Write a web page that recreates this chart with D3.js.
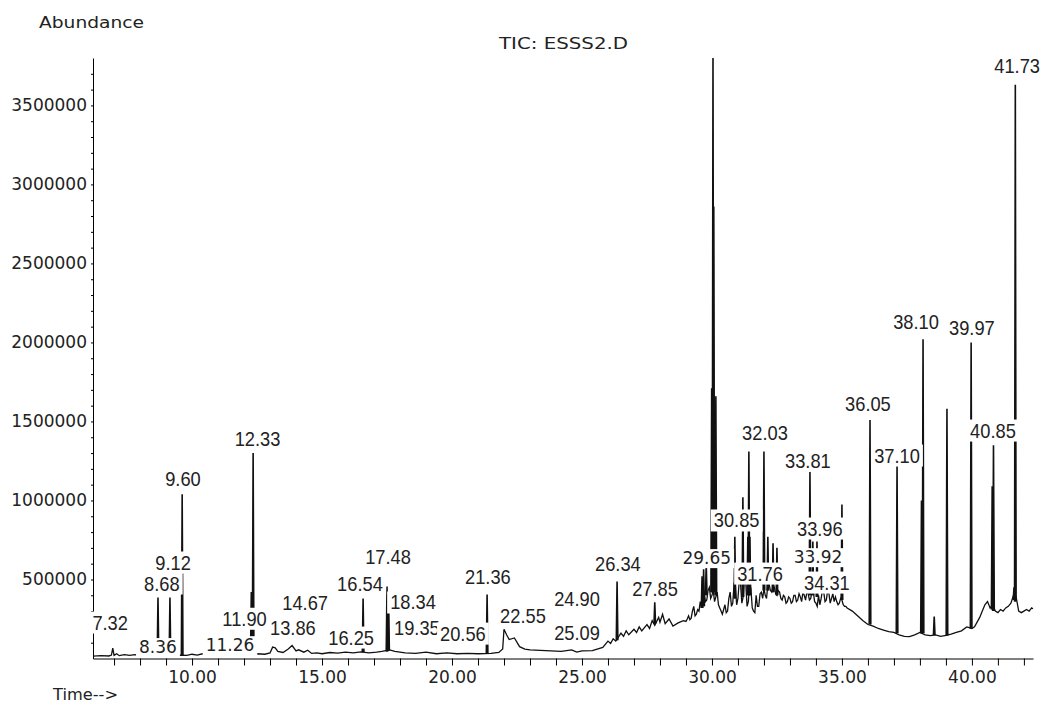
<!DOCTYPE html>
<html>
<head>
<meta charset="utf-8">
<script src="https://cdn.jsdelivr.net/npm/d3@7"></script>
<style>
  body { margin: 0; background: #fff; }
  svg { display: block; }
  .axis text { font-family: 'DejaVu Sans', sans-serif; font-size: 17px; fill: #222; }
  .axis path, .axis line { stroke: #000; }
  .title { font-family: 'DejaVu Sans', sans-serif; font-size: 16px; fill: #222; }
  .peak-label { font-family: 'Liberation Sans', Arial, sans-serif; font-size: 21px; fill: #222; }
  .peak-label.alt { font-family: 'DejaVu Sans', sans-serif; font-size: 17px; }
</style>
</head>
<body>
<svg width="1046" height="707"></svg>
<script>
// all abundances are in thousands of counts

// baseline of the total ion chromatogram (time in minutes)
var traceTime = [
  6.20, 6.50, 6.80, 6.90, 6.95, 7.00, 7.10, 7.20, 7.40, 7.60,
  7.80, 8.00, 8.20, 8.40, 8.60, 8.80, 9.00, 9.20, 9.40, 9.80,
  10.00, 10.20, 10.40, 10.60, 10.80, 11.00, 11.20, 11.40, 11.60, 11.80,
  12.00, 12.20, 12.50, 12.80, 13.00, 13.10, 13.20, 13.30, 13.50, 13.70,
  13.85, 14.00, 14.10, 14.30, 14.45, 14.60, 14.80, 15.00, 15.30, 15.60,
  15.90, 16.20, 16.50, 16.80, 17.10, 17.30, 17.60, 17.80, 18.00, 18.20,
  18.60, 19.00, 19.40, 19.80, 20.20, 20.60, 21.00, 21.50, 21.80, 21.95,
  22.00, 22.10, 22.20, 22.40, 22.60, 22.80, 23.00, 23.40, 23.80, 24.20,
  24.60, 24.80, 25.00, 25.40, 25.80, 26.00, 26.10, 26.20, 26.30, 26.50,
  26.60, 26.70, 26.80, 27.00, 27.10, 27.20, 27.30, 27.50, 27.60, 27.70,
  27.80, 27.95, 28.00, 28.10, 28.20, 28.35, 28.50, 28.70, 28.90,
  29.00, 29.05, 29.10, 29.15, 29.20, 29.25, 29.30, 29.35, 29.40, 29.45,
  29.50, 29.55, 29.60, 29.65, 29.70, 29.75, 29.80, 29.85, 29.90, 29.95,
  30.00, 30.05, 30.10, 30.15, 30.20, 30.25, 30.30, 30.35, 30.40, 30.45,
  30.50, 30.55, 30.60, 30.65, 30.70, 30.75, 30.80, 30.85, 30.90, 30.95,
  31.00, 31.05, 31.10, 31.15, 31.20, 31.25, 31.30, 31.35, 31.40, 31.45,
  31.50, 31.55, 31.60, 31.65, 31.70, 31.75, 31.80, 31.85, 31.90, 31.95,
  32.00, 32.05, 32.10, 32.15, 32.20, 32.25, 32.30, 32.35, 32.40, 32.45,
  32.50, 32.55, 32.60, 32.65, 32.70, 32.75, 32.80, 32.85, 32.90, 32.95,
  33.00, 33.05, 33.10, 33.15, 33.20, 33.25, 33.30, 33.35, 33.40, 33.45,
  33.50, 33.55, 33.60, 33.65, 33.70, 33.75, 33.80, 33.85, 33.90, 33.95,
  34.00, 34.05, 34.10, 34.15, 34.20, 34.25, 34.30, 34.35, 34.40, 34.45,
  34.50, 34.55, 34.60, 34.65, 34.70, 34.75, 34.80, 34.85, 34.90, 34.95,
  35.00, 35.05, 35.10, 35.15, 35.20, 35.40, 35.60, 35.80, 36.00, 36.20,
  36.40, 36.60, 36.80, 37.00, 37.20, 37.40, 37.60, 37.80, 38.00, 38.20,
  38.40, 38.60, 38.80, 39.00, 39.20, 39.40, 39.60, 39.80, 40.00, 40.10,
  40.20, 40.30, 40.40, 40.50, 40.60, 40.70, 40.80, 40.90, 41.00, 41.10,
  41.20, 41.30, 41.40, 41.50, 41.60, 41.70, 41.80, 41.90, 42.00, 42.10,
  42.20, 42.30, 42.35
]
var traceAbund = [
  15, 18, 16, 22, 65, 20, 30, 18, 25, 20,
  24, 18, 22, 19, 24, 20, 26, 18, 22, 20,
  27, 22, 30, 26, 33, 28, 32, 26, 34, 28,
  30, 26, 30, 27, 35, 72, 68, 45, 38, 60,
  82, 48, 55, 40, 52, 32, 36, 30, 38, 34,
  40, 36, 42, 35, 40, 45, 55, 45, 40, 35,
  32, 40, 30, 35, 30, 33, 30, 32, 38, 60,
  185, 150, 120, 130, 75, 60, 55, 52, 48, 45,
  55, 40, 48, 50, 70, 110, 95, 125, 110, 160,
  140, 175, 150, 185, 165, 200, 175, 215, 190, 240,
  210, 260, 230, 280, 220, 250, 205, 225, 240,
  235, 250, 270, 245, 255, 300, 330, 270, 280, 310,
  300, 360, 320, 410, 420, 360, 370, 430, 450, 380,
  400, 430, 360, 390, 420, 340, 320, 300, 280, 310,
  340, 290, 300, 380, 420, 330, 350, 470, 460, 340,
  380, 490, 470, 350, 390, 500, 480, 330, 360, 480,
  440, 320, 300, 290, 400, 330, 330, 410, 420, 380,
  440, 400, 380, 470, 470, 430, 420, 460, 450, 410,
  400, 430, 420, 380, 370, 400, 390, 350, 360, 390,
  380, 350, 360, 400, 400, 360, 370, 410, 390, 360,
  420, 400, 370, 420, 410, 370, 380, 430, 420, 360,
  350, 330, 400, 340, 380, 430, 420, 360, 370, 430,
  410, 350, 380, 410, 360, 390, 360, 340, 350, 380,
  370, 340, 330, 330, 320, 300, 270, 240, 215, 205,
  190, 180, 170, 165, 150, 140, 138, 150, 165, 150,
  145, 150, 140, 146, 155, 165, 175, 200, 190, 200,
  230, 260, 300, 340, 360, 320, 340, 300, 290, 310,
  300, 320, 330, 350, 400, 390, 300, 290, 300, 310,
  300, 320, 315
]

// individual peaks: retention time, apex and foot abundance
var peakTime = [8.69, 9.15, 9.62, 12.28, 12.35, 16.58, 17.50, 17.56, 21.35, 26.35,
  27.80, 29.62, 29.68, 29.78, 29.99, 30.04, 30.07, 30.15, 30.88, 31.19,
  31.38, 31.42, 31.46, 32.00, 32.15, 32.35, 32.50, 33.77, 33.88, 34.04,
  35.00, 36.08, 37.12, 38.06, 38.12, 38.55, 39.04, 39.97, 40.78, 40.83,
  41.62, 41.67]
var peakApex = [386, 386, 1040, 420, 1300, 380, 455, 410, 405, 487,
  355, 520, 565, 600, 1710, 3800, 2860, 1660, 770, 1020,
  770, 1310, 770, 1310, 770, 730, 700, 1180, 740, 740,
  975, 1510, 1230, 1000, 2020, 266, 1580, 2000, 1090, 1350,
  450, 3630]
var peakFoot = [20, 20, 22, 28, 28, 40, 45, 50, 32, 115,
  220, 320, 330, 400, 420, 420, 420, 400, 380, 390,
  400, 400, 400, 430, 430, 420, 400, 400, 400, 390,
  370, 215, 160, 160, 160, 148, 146, 190, 310, 300,
  370, 360]

// retention-time labels printed by the integrator
var labelText = ['7.32', '8.36', '8.68', '9.12', '9.60', '11.26', '11.90', '12.33', '13.86', '14.67',
  '16.25', '16.54', '17.48', '18.34', '19.35', '20.56', '21.36', '22.55', '24.90', '25.09',
  '26.34', '27.85', '29.65', '30.85', '31.76', '32.03', '33.81', '33.96', '33.92', '34.31',
  '36.05', '37.10', '38.10', '39.97', '40.85', '41.73']
// where each label sits (minutes, thousands)
var labelAt = [[6.85, 231], [8.69, 73], [8.84, 478], [9.27, 611], [9.65, 1142], [11.46, 85], [12.02, 255], [12.52, 1395], [13.88, 199], [14.35, 352],
  [16.12, 136], [16.46, 478], [17.54, 649], [18.5, 358], [18.65, 199], [20.42, 161], [21.38, 522], [22.73, 275], [24.81, 383], [24.81, 168],
  [26.38, 604], [27.81, 446], [29.8, 636], [30.95, 877], [31.85, 541], [32.04, 1433], [33.69, 1256], [34.15, 826], [34.08, 642], [34.42, 484],
  [36.0, 1617], [37.12, 1288], [37.85, 2130], [40.0, 2098], [40.81, 1446], [41.74, 3750]]
var altFontLabels = ['8.36', '11.26', '29.65', '33.92']

var xTickValues = d3.range(7, 43)
var yTickValues = d3.range(100, 3800, 100)

var svg = d3.select('svg')

var x = d3.scaleLinear().domain([6.19, 42.35]).range([93, 1033])
var y = d3.scaleLinear().domain([0, 3800]).range([658.5, 58])

// axes
svg.append('g')
    .attr('class', 'axis')
    .attr('transform', 'translate(0,' + y(0) + ')')
    .call(d3.axisBottom(x)
      .tickValues(xTickValues)
      .tickSize(7)
      .tickSizeOuter(0)
      .tickPadding(5)
      .tickFormat(function (d) { return d % 5 === 0 ? d.toFixed(2) : '' }))

svg.append('g')
    .attr('class', 'axis')
    .attr('transform', 'translate(' + x(6.19) + ',0)')
    .call(d3.axisLeft(y)
      .tickValues(yTickValues)
      .tickSize(2)
      .tickSizeOuter(0)
      .tickPadding(4)
      .tickFormat(function (d) { return d % 500 === 0 ? String(d * 1000) : '' }))

// trace
var line = d3.line()
    .x(function (d) { return x(d[0]) })
    .y(function (d) { return y(d[1]) })

svg.append('path')
    .datum(traceTime.map(function (t, i) { return [t, traceAbund[i]] }))
    .attr('d', line)
    .attr('fill', 'none')
    .attr('stroke', '#111')
    .attr('stroke-width', 1.3)

svg.append('g').selectAll('path')
    .data(peakTime)
  .enter().append('path')
    .attr('d', function (t, i) {
      return line([[t - 0.03, peakFoot[i]], [t, peakApex[i]], [t + 0.03, peakFoot[i]]])
    })
    .attr('fill', '#111')
    .attr('stroke', '#111')
    .attr('stroke-width', 1.6)

// labels with white boxes over the trace
var labels = svg.append('g').selectAll('g')
    .data(labelText)
  .enter().append('g')

labels.append('text')
    .attr('class', function (d) { return altFontLabels.indexOf(d) >= 0 ? 'peak-label alt' : 'peak-label' })
    .attr('x', function (d, i) { return x(labelAt[i][0]) })
    .attr('y', function (d, i) { return y(labelAt[i][1]) })
    .attr('dy', '0.36em')
    .attr('text-anchor', 'middle')
    .text(function (d) { return d })

// the printer font is narrower than Liberation Sans
labels.select('text.peak-label:not(.alt)').each(function () {
  var w = this.getComputedTextLength()
  d3.select(this).attr('textLength', w * 0.87).attr('lengthAdjust', 'spacingAndGlyphs')
})

labels.each(function () {
  var g = d3.select(this)
  var b = g.select('text').node().getBBox()
  g.insert('rect', 'text')
      .attr('x', b.x - 3)
      .attr('y', b.y + 1)
      .attr('width', b.width + 6)
      .attr('height', b.height - 1)
      .attr('fill', '#fff')
})

// titles
svg.append('text').attr('class', 'title')
    .attr('x', 39).attr('y', 28)
    .attr('textLength', 105).attr('lengthAdjust', 'spacingAndGlyphs')
    .text('Abundance')

svg.append('text').attr('class', 'title')
    .attr('x', 499).attr('y', 49)
    .attr('textLength', 129).attr('lengthAdjust', 'spacingAndGlyphs')
    .text('TIC: ESSS2.D')

svg.append('text').attr('class', 'title')
    .attr('x', 53).attr('y', 700)
    .attr('textLength', 65).attr('lengthAdjust', 'spacingAndGlyphs')
    .text('Time-->')
</script>
</body>
</html>
